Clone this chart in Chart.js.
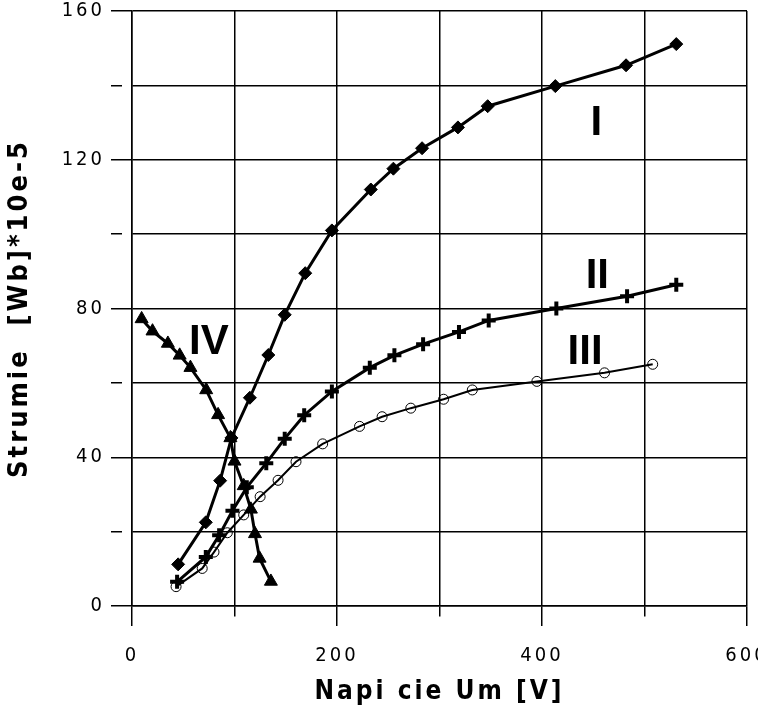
<!DOCTYPE html>
<html>
<head>
<meta charset="utf-8">
<script src="https://cdn.jsdelivr.net/npm/chart.js@4.4.0/dist/chart.umd.min.js"></script>
<style>
html, body { margin: 0; padding: 0; background: #fff; }
#wrap { width: 758px; height: 712px; }
</style>
</head>
<body>
<div id="wrap"><canvas id="fluxChart"></canvas></div>
<script>
// curve I (diamonds)
var u1 = [45, 72, 86, 97, 115, 133, 149, 169, 195, 233, 255, 283, 318, 347, 413, 482, 531];
var flux1 = [11.2, 22.5, 33.7, 45.2, 56, 67.5, 78.3, 89.5, 101, 112, 117.6, 123.1, 128.7, 134.4, 139.8, 145.4, 151.1];
// curve II (crosses)
var u2 = [44, 72, 85, 98, 112, 131, 149, 168, 195, 232, 256, 284, 319, 348, 414, 483, 531];
var flux2 = [6.5, 13.2, 19, 25.6, 31.9, 38.4, 45, 51.3, 57.7, 64.1, 67.4, 70.4, 73.7, 76.8, 80, 83.3, 86.4];
// curve III (open circles)
var u3 = [43, 68.5, 80, 93, 109, 125, 142.5, 160, 186, 222, 244, 272, 304, 332, 395, 461, 508];
var flux3 = [5.2, 10.1, 14.5, 19.7, 24.5, 29.4, 33.8, 38.8, 43.6, 48.3, 50.9, 53.2, 55.6, 58.1, 60.4, 62.7, 65];
// curve IV (triangles)
var u4 = [9.4, 20, 35, 46.5, 57, 72.4, 84, 96, 100, 109, 116, 120, 124.5, 135.5];
var flux4 = [77.2, 73.9, 70.6, 67.4, 64.1, 58.1, 51.4, 45.2, 38.9, 32.3, 26, 19.4, 12.8, 6.6];

// curve names written on the plot
var curveNames = ['I', 'II', 'III', 'IV'];
var nameU = [453, 454, 442, 75];
var nameFlux = [129.8, 88.7, 68.1, 70.8];

var xTicks = [0, 200, 400, 600];
var yTicks = [0, 40, 80, 120, 160];

var narrow = '"Liberation Sans Narrow", "DejaVu Sans Condensed", "Liberation Sans", sans-serif';

function points(xs, ys) {
    return xs.map(function (x, i) { return { x: x, y: ys[i] }; });
}

// spaced-out lettering like the original
var spacingPlugin = {
    id: 'spacing',
    beforeLayout: function (chart) { chart.ctx.letterSpacing = '3px'; },
    beforeDraw: function (chart) { chart.ctx.letterSpacing = '3px'; }
};

var curveNamePlugin = {
    id: 'curveNames',
    afterDatasetsDraw: function (chart) {
        var ctx = chart.ctx, xs = chart.scales.x, ys = chart.scales.y;
        ctx.save();
        ctx.letterSpacing = '0px';
        ctx.font = 'bold 42px "Liberation Sans", Arial, sans-serif';
        ctx.fillStyle = '#000';
        ctx.textAlign = 'center';
        ctx.textBaseline = 'middle';
        curveNames.forEach(function (name, i) {
            ctx.fillText(name, xs.getPixelForValue(nameU[i]), ys.getPixelForValue(nameFlux[i]));
        });
        ctx.restore();
    }
};

var ctx = document.getElementById('fluxChart').getContext('2d');
var chart = new Chart(ctx, {
    type: 'line',
    data: {
        datasets: [{
            label: 'I',
            data: points(u1, flux1),
            borderColor: '#000',
            borderWidth: 3,
            pointStyle: 'rectRot',
            pointRadius: 6.5,
            pointBackgroundColor: '#000',
            pointBorderColor: '#000',
            pointBorderWidth: 1
        }, {
            label: 'II',
            data: points(u2, flux2),
            borderColor: '#000',
            borderWidth: 3,
            pointStyle: 'cross',
            pointRadius: 7,
            pointBorderColor: '#000',
            pointBorderWidth: 4
        }, {
            label: 'III',
            data: points(u3, flux3),
            borderColor: '#000',
            borderWidth: 2,
            pointStyle: 'circle',
            pointRadius: 5,
            pointBackgroundColor: 'rgba(0,0,0,0)',
            pointBorderColor: '#000',
            pointBorderWidth: 1
        }, {
            label: 'IV',
            data: points(u4, flux4),
            borderColor: '#000',
            borderWidth: 3,
            pointStyle: 'triangle',
            pointRadius: 7.5,
            pointBackgroundColor: '#000',
            pointBorderColor: '#000',
            pointBorderWidth: 1
        }]
    },
    options: {
        responsive: true,
        maintainAspectRatio: false,
        animation: false,
        devicePixelRatio: 1,
        layout: { padding: { top: 7, right: 7, left: 0, bottom: 0 } },
        plugins: {
            legend: { display: false },
            tooltip: { enabled: false }
        },
        scales: {
            x: {
                type: 'linear',
                min: 0,
                max: 600,
                ticks: {
                    stepSize: 100,
                    autoSkip: false,
                    maxRotation: 0,
                    padding: 18,
                    color: '#000',
                    font: { family: narrow, size: 20 },
                    callback: function (v) { return xTicks.indexOf(v) >= 0 ? String(v) : ''; }
                },
                grid: {
                    color: '#000',
                    lineWidth: 1.5,
                    tickLength: 20,
                    tickBorderDash: function (c) {
                        return c.tick && xTicks.indexOf(c.tick.value) < 0 ? [10, 60] : [];
                    }
                },
                border: { color: '#000', width: 1.5 },
                title: {
                    display: true,
                    text: 'Napi cie Um [V]',
                    color: '#000',
                    font: { family: narrow, size: 26, weight: 'bold' },
                    padding: { top: 0, bottom: 4 }
                },
                afterFit: function (axis) {
                    axis.height = 106;
                    axis.paddingLeft = 0;
                    axis.paddingRight = 0;
                }
            },
            y: {
                min: 0,
                max: 160,
                ticks: {
                    stepSize: 20,
                    autoSkip: false,
                    padding: 6,
                    color: '#000',
                    font: { family: narrow, size: 20 },
                    callback: function (v) { return yTicks.indexOf(v) >= 0 ? String(v) : ''; }
                },
                grid: {
                    color: '#000',
                    lineWidth: 1.5,
                    tickLength: 21,
                    tickBorderDash: function (c) {
                        return c.tick && yTicks.indexOf(c.tick.value) < 0 ? [11, 60] : [];
                    }
                },
                border: { color: '#000', width: 1.5 },
                title: {
                    display: true,
                    text: 'Strumie  [Wb]*10e-5',
                    color: '#000',
                    font: { family: narrow, size: 27, weight: 'bold' },
                    padding: { top: 4, bottom: 0 }
                },
                afterFit: function (axis) {
                    axis.width = 132;
                    axis.paddingTop = 0;
                    axis.paddingBottom = 0;
                }
            }
        }
    },
    plugins: [spacingPlugin, curveNamePlugin]
});
</script>
</body>
</html>
